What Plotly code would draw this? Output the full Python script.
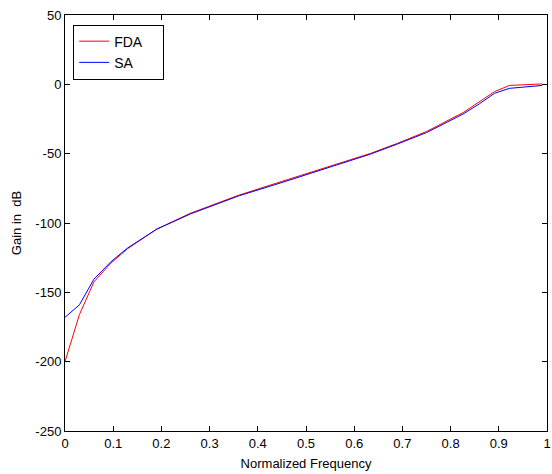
import plotly.graph_objects as go

# Data
fda_freq = [0, 0.03, 0.06, 0.095, 0.13, 0.19, 0.26, 0.36, 0.45, 0.525, 0.634, 0.69, 0.75, 0.826, 0.86, 0.891, 0.922, 0.99]
fda_gain = [-200, -166, -142.5, -129, -118.5, -104.5, -93, -80, -70, -61.8, -49.8, -42.5, -34, -20.4, -12.5, -5.3, -0.8, 0.3]

sa_freq = [0, 0.03, 0.06, 0.095, 0.13, 0.19, 0.26, 0.36, 0.45, 0.525, 0.634, 0.69, 0.75, 0.826, 0.86, 0.891, 0.922, 0.99]
sa_gain = [-168, -159, -140.5, -128, -118, -104.5, -93.5, -80.5, -70.8, -62.3, -50.3, -43, -34.8, -21.4, -14, -6.5, -2.9, -0.8]

x_ticks = [0, 0.1, 0.2, 0.3, 0.4, 0.5, 0.6, 0.7, 0.8, 0.9, 1]
x_tick_labels = ["0", "0.1", "0.2", "0.3", "0.4", "0.5", "0.6", "0.7", "0.8", "0.9", "1"]
y_ticks = [-250, -200, -150, -100, -50, 0, 50]
y_tick_labels = ["-250", "-200", "-150", "-100", "-50", "0", "50"]

font = "Liberation Sans, Arial, sans-serif"

fig = go.Figure()
fig.add_trace(go.Scatter(x=fda_freq, y=fda_gain, mode="lines", name="FDA\u00a0\u00a0\u00a0\u00a0",
                         line=dict(color="#ff0000", width=1)))
fig.add_trace(go.Scatter(x=sa_freq, y=sa_gain, mode="lines", name="SA",
                         line=dict(color="#0000ff", width=1)))

axis_common = dict(showgrid=False, zeroline=False, showline=True, linecolor="black",
                   linewidth=1, mirror="ticks", ticks="inside", ticklen=5,
                   tickcolor="black", ticklabeloverflow="allow",
                   tickfont=dict(family=font, size=13, color="black"))

fig.update_layout(
    width=552, height=474,
    margin=dict(l=65, r=1, t=15, b=43),
    paper_bgcolor="white", plot_bgcolor="white",
    font=dict(family=font, size=13, color="black"),
    xaxis=dict(range=[0, 1], tickvals=x_ticks, ticktext=x_tick_labels,
               title=dict(text="Normalized Frequency", font=dict(family=font, size=13), standoff=9),
               **axis_common),
    yaxis=dict(range=[-250, 50], tickvals=y_ticks, ticktext=y_tick_labels,
               title=dict(text="Gain in  dB", font=dict(family=font, size=13), standoff=10),
               **axis_common),
    legend=dict(x=0.017, y=0.977, xanchor="left", yanchor="top",
                bordercolor="black", borderwidth=1, bgcolor="white",
                font=dict(family=font, size=14, color="black"),
                itemwidth=30, tracegroupgap=0),
    showlegend=True,
)

fig.write_html("out.html")
